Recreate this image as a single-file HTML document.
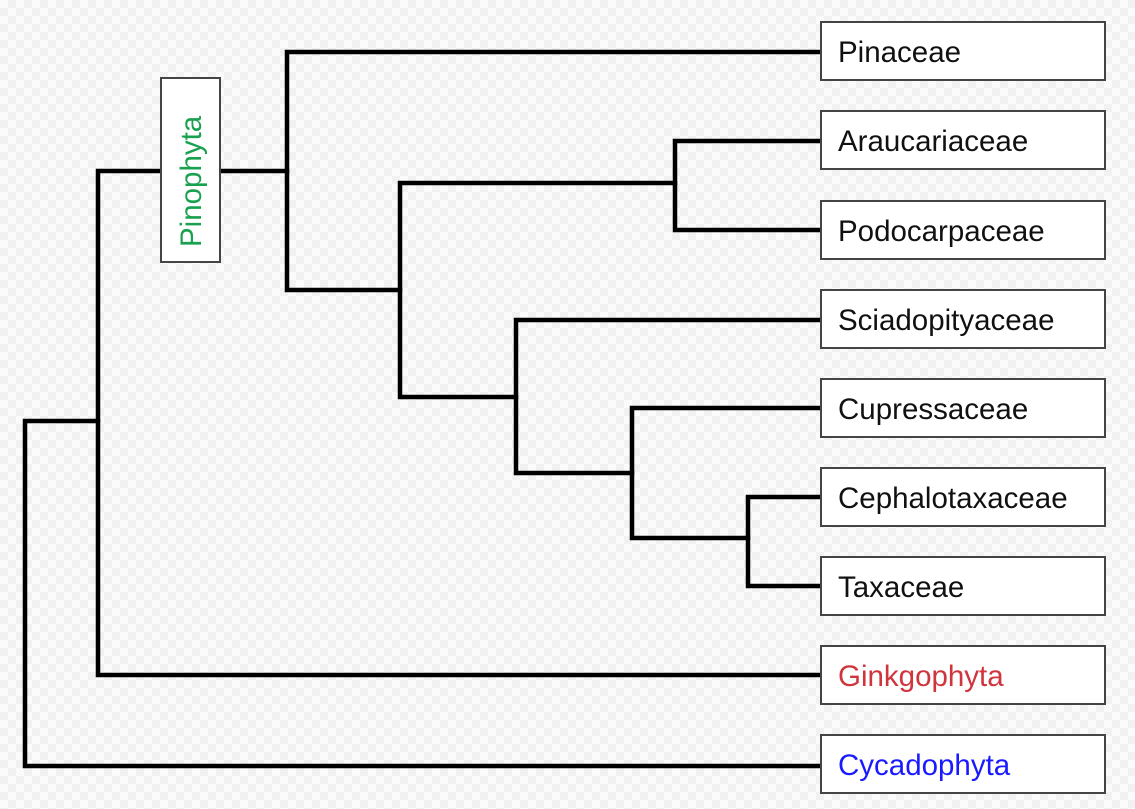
<!DOCTYPE html>
<html><head><meta charset="utf-8"><style>
html,body{margin:0;padding:0;}
body{width:1135px;height:809px;overflow:hidden;
background-color:#fbfbfb;
background-image:linear-gradient(45deg,#f1f1f1 25%,transparent 25%,transparent 75%,#f1f1f1 75%),linear-gradient(45deg,#f1f1f1 25%,transparent 25%,transparent 75%,#f1f1f1 75%);
background-size:16px 16px;background-position:0 0,8px 8px;}
svg{position:absolute;left:0;top:0;}
text{font-family:"Liberation Sans",sans-serif;font-size:29.5px;}
</style></head><body>
<svg width="1135" height="809" viewBox="0 0 1135 809">
<g stroke="#000" stroke-width="4.5" fill="none" stroke-linecap="square">
<polyline points="821,52 287,52 287,290 400,290"/>
<polyline points="821,141 675,141 675,230 821,230"/>
<polyline points="675,183 400,183 400,397 516,397"/>
<polyline points="821,320 516,320 516,473 632,473"/>
<polyline points="821,408 632,408 632,538 748,538"/>
<polyline points="821,497 748,497 748,586 821,586"/>
<polyline points="287,171 98,171 98,675 821,675"/>
<polyline points="98,421 25,421 25,766 821,766"/>
</g>
<g fill="#fff" stroke="#444" stroke-width="2">
<rect x="161" y="78" width="59" height="184"/>
<rect x="821" y="22" width="284" height="58"/>
<rect x="821" y="111" width="284" height="58"/>
<rect x="821" y="201" width="284" height="58"/>
<rect x="821" y="290" width="284" height="58"/>
<rect x="821" y="379" width="284" height="58"/>
<rect x="821" y="468" width="284" height="58"/>
<rect x="821" y="557" width="284" height="58"/>
<rect x="821" y="646" width="284" height="58"/>
<rect x="821" y="735" width="284" height="58"/>
</g>
<text x="201" y="247" fill="#1aa150" transform="rotate(-90 201 247)">Pinophyta</text>
<g fill="#111">
<text x="838" y="62">Pinaceae</text>
<text x="838" y="151">Araucariaceae</text>
<text x="838" y="241">Podocarpaceae</text>
<text x="838" y="330">Sciadopityaceae</text>
<text x="838" y="419">Cupressaceae</text>
<text x="838" y="508">Cephalotaxaceae</text>
<text x="838" y="597">Taxaceae</text>
</g>
<text x="838" y="686" fill="#d0343c">Ginkgophyta</text>
<text x="838" y="775" fill="#1a1aff">Cycadophyta</text>
</svg>
</body></html>
